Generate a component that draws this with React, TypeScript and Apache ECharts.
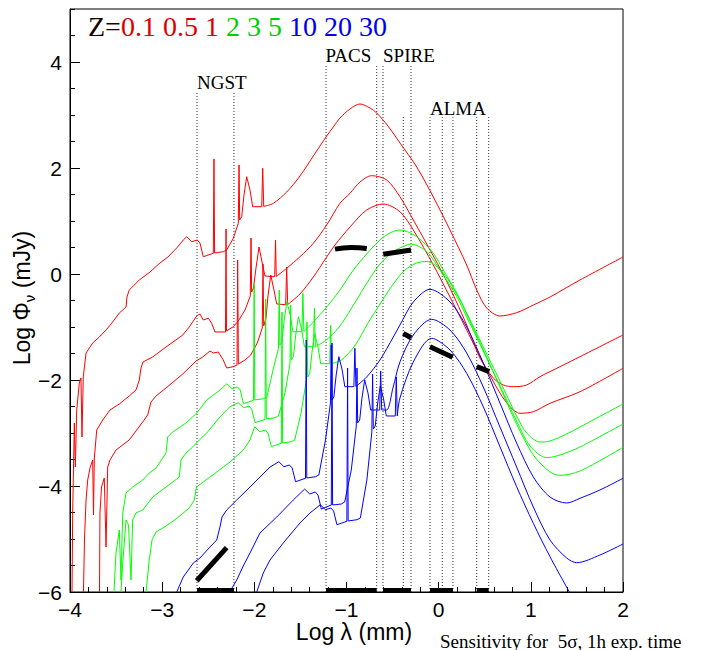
import React, { useEffect, useRef } from "react";
import * as echarts from "echarts";

// ---- SED curves: [log lambda (mm), log flux (mJy)] ----
const z01 = [[-3.978,-6],[-3.971,-4.509],[-3.953,-2.811],[-3.942,-3.642],[-3.927,-2.566],[-3.899,-2.057],[-3.881,-1.962],[-3.870,-3.075],[-3.856,-1.943],[-3.826,-1.491],[-3.754,-1.302],[-3.682,-1.189],[-3.609,-1.057],[-3.537,-0.906],[-3.465,-0.736],[-3.392,-0.623],[-3.382,-0.434],[-3.357,-0.302],[-3.248,-0.113],[-3.132,0.038],[-3.024,0.208],[-2.937,0.321],[-2.842,0.491],[-2.771,0.642],[-2.734,0.704],[-2.680,0.609],[-2.619,0.642],[-2.590,0.585],[-2.554,0.326],[-2.445,0.391],[-2.438,2.170],[-2.431,0.396],[-2.337,0.421],[-2.300,0.453],[-2.228,0.674],[-2.174,0.957],[-2.166,2.057],[-2.159,1.019],[-2.137,1.081],[-2.112,1.491],[-2.083,1.836],[-2.047,1.585],[-2.018,1.270],[-1.920,1.270],[-1.909,1.994],[-1.898,1.274],[-1.794,1.334],[-1.649,1.547],[-1.505,1.849],[-1.360,2.226],[-1.215,2.604],[-1.143,2.774],[-1.071,2.943],[-0.962,3.113],[-0.854,3.208],[-0.745,3.132],[-0.672,3.038],[-0.550,2.792],[-0.420,2.472],[-0.238,2.019],[-0.058,1.453],[0.123,0.830],[0.304,0.170],[0.413,-0.302],[0.521,-0.642],[0.665,-0.792],[0.846,-0.730],[1.027,-0.585],[1.208,-0.434],[1.533,-0.113],[2.0,0.321]];

const z05 = [[-3.854,-6],[-3.843,-5.019],[-3.826,-4.264],[-3.808,-3.887],[-3.783,-3.660],[-3.754,-3.509],[-3.745,-4.547],[-3.736,-3.472],[-3.710,-2.943],[-3.645,-2.755],[-3.566,-2.566],[-3.465,-2.453],[-3.357,-2.302],[-3.284,-2.189],[-3.248,-2.0],[-3.230,-1.774],[-3.208,-1.660],[-3.103,-1.566],[-2.958,-1.377],[-2.777,-1.151],[-2.706,-1.0],[-2.625,-0.792],[-2.590,-0.755],[-2.554,-0.868],[-2.499,-0.836],[-2.463,-0.930],[-2.427,-1.094],[-2.313,-1.094],[-2.307,0.849],[-2.302,-1.075],[-2.228,-0.994],[-2.174,-0.887],[-2.101,-0.679],[-2.044,-0.415],[-2.036,0.679],[-2.029,-0.340],[-2.009,-0.264],[-1.982,0.113],[-1.949,0.509],[-1.917,0.226],[-1.884,-0.038],[-1.779,-0.051],[-1.770,0.642],[-1.762,-0.047],[-1.649,0.108],[-1.505,0.326],[-1.360,0.579],[-1.215,0.925],[-1.071,1.334],[-0.962,1.523],[-0.854,1.736],[-0.727,1.855],[-0.564,1.774],[-0.420,1.458],[-0.275,1.019],[-0.058,0.340],[0.123,-0.264],[0.304,-0.962],[0.448,-1.585],[0.593,-1.962],[0.701,-2.094],[0.810,-2.126],[0.955,-2.094],[1.099,-1.938],[1.316,-1.749],[1.533,-1.560],[2.0,-1.151]];

const z1 = [[-3.680,-6],[-3.675,-4.509],[-3.658,-4.019],[-3.628,-3.849],[-3.609,-5.151],[-3.591,-3.642],[-3.566,-3.509],[-3.501,-3.321],[-3.357,-3.132],[-3.211,-2.792],[-3.157,-2.660],[-3.121,-2.415],[-3.067,-2.302],[-2.958,-2.151],[-2.777,-1.887],[-2.633,-1.642],[-2.560,-1.566],[-2.481,-1.453],[-2.445,-1.491],[-2.391,-1.472],[-2.337,-1.623],[-2.300,-1.774],[-2.228,-1.749],[-2.188,-1.717],[-2.181,0.264],[-2.173,-1.698],[-2.101,-1.623],[-2.039,-1.528],[-1.968,-1.302],[-1.914,-1.019],[-1.906,0.189],[-1.898,-0.981],[-1.873,-0.830],[-1.852,-0.415],[-1.822,-0.019],[-1.787,-0.302],[-1.757,-0.566],[-1.660,-0.579],[-1.649,0.132],[-1.638,-0.575],[-1.505,-0.377],[-1.360,-0.057],[-1.222,0.302],[-1.125,0.547],[-0.962,0.887],[-0.781,1.208],[-0.601,1.321],[-0.420,1.175],[-0.275,0.830],[-0.058,0.170],[0.123,-0.434],[0.304,-1.057],[0.484,-1.679],[0.665,-2.245],[0.774,-2.504],[0.882,-2.628],[1.027,-2.598],[1.208,-2.440],[1.533,-2.221],[2.0,-1.779]];

const z2 = [[-3.523,-6],[-3.501,-5.264],[-3.465,-4.830],[-3.447,-5.774],[-3.428,-4.509],[-3.392,-4.132],[-3.320,-4.019],[-3.211,-3.887],[-3.140,-3.755],[-3.067,-3.660],[-2.958,-3.377],[-2.940,-3.075],[-2.886,-2.981],[-2.741,-2.811],[-2.625,-2.623],[-2.517,-2.377],[-2.373,-2.189],[-2.298,-2.070],[-2.243,-2.164],[-2.183,-2.132],[-2.153,-2.189],[-2.118,-2.447],[-2.009,-2.383],[-2.002,-0.189],[-1.995,-2.377],[-1.901,-2.353],[-1.864,-2.321],[-1.792,-1.774],[-1.738,-1.402],[-1.730,-0.302],[-1.723,-1.340],[-1.701,-1.277],[-1.676,-0.868],[-1.647,-0.523],[-1.611,-0.774],[-1.582,-1.089],[-1.484,-1.089],[-1.473,-0.364],[-1.462,-1.085],[-1.360,-0.906],[-1.215,-0.623],[-1.071,-0.302],[-0.926,0.075],[-0.781,0.377],[-0.637,0.642],[-0.528,0.774],[-0.420,0.830],[-0.238,0.704],[-0.058,0.391],[0.050,0.075],[0.196,-0.358],[0.304,-0.736],[0.484,-1.377],[0.665,-2.019],[0.846,-2.679],[0.955,-3.0],[1.099,-3.170],[1.208,-3.151],[1.389,-3.019],[1.533,-2.887],[2.0,-2.453]];

const z3 = [[-3.447,-6],[-3.425,-5.396],[-3.392,-4.642],[-3.365,-4.736],[-3.338,-5.774],[-3.320,-4.642],[-3.284,-4.509],[-3.211,-4.453],[-3.103,-4.208],[-2.958,-4.019],[-2.814,-3.830],[-2.796,-3.509],[-2.741,-3.377],[-2.669,-3.264],[-2.597,-3.132],[-2.517,-3.0],[-2.373,-2.698],[-2.300,-2.566],[-2.264,-2.504],[-2.173,-2.428],[-2.119,-2.523],[-2.058,-2.491],[-2.029,-2.547],[-1.993,-2.806],[-1.884,-2.741],[-1.877,-0.472],[-1.870,-2.736],[-1.776,-2.711],[-1.739,-2.679],[-1.667,-2.245],[-1.613,-1.685],[-1.606,-0.585],[-1.598,-1.623],[-1.576,-1.560],[-1.551,-1.151],[-1.522,-0.806],[-1.486,-1.057],[-1.457,-1.372],[-1.359,-1.372],[-1.348,-0.647],[-1.338,-1.368],[-1.233,-1.264],[-1.088,-1.019],[-0.944,-0.642],[-0.799,-0.226],[-0.654,0.151],[-0.528,0.377],[-0.420,0.491],[-0.293,0.566],[-0.184,0.491],[-0.112,0.396],[0.014,0.075],[0.196,-0.428],[0.304,-0.811],[0.484,-1.453],[0.665,-2.113],[0.846,-2.774],[0.991,-3.245],[1.172,-3.466],[1.316,-3.415],[1.533,-3.264],[2.0,-2.830]];

const z5 = [[-3.175,-6],[-3.140,-5.396],[-3.110,-5.019],[-3.067,-4.868],[-2.958,-4.755],[-2.850,-4.623],[-2.706,-4.415],[-2.651,-4.264],[-2.628,-4.019],[-2.554,-3.925],[-2.408,-3.736],[-2.264,-3.547],[-2.120,-3.321],[-2.047,-3.132],[-1.996,-2.881],[-1.942,-2.975],[-1.881,-2.943],[-1.852,-3.0],[-1.816,-3.258],[-1.707,-3.194],[-1.700,-0.717],[-1.693,-3.189],[-1.599,-3.164],[-1.562,-3.132],[-1.491,-2.604],[-1.436,-2.006],[-1.429,-0.906],[-1.421,-1.943],[-1.399,-1.881],[-1.374,-1.472],[-1.345,-1.126],[-1.309,-1.377],[-1.280,-1.692],[-1.182,-1.692],[-1.172,-0.968],[-1.161,-1.689],[-1.057,-1.623],[-0.911,-1.358],[-0.767,-0.925],[-0.622,-0.528],[-0.477,-0.151],[-0.365,0.075],[-0.238,0.208],[-0.127,0.236],[0.050,0.019],[0.231,-0.491],[0.304,-0.755],[0.484,-1.434],[0.665,-2.132],[0.846,-2.830],[1.027,-3.415],[1.208,-3.736],[1.316,-3.798],[1.533,-3.717],[2.0,-3.270]];

const z10 = [[-2.842,-6],[-2.771,-5.717],[-2.662,-5.453],[-2.590,-5.358],[-2.481,-5.151],[-2.408,-5.019],[-2.373,-4.774],[-2.351,-4.585],[-2.300,-4.453],[-2.191,-4.264],[-2.047,-4.019],[-1.939,-3.830],[-1.830,-3.642],[-1.734,-3.542],[-1.679,-3.636],[-1.619,-3.604],[-1.589,-3.660],[-1.553,-3.919],[-1.445,-3.855],[-1.437,-1.245],[-1.431,-3.849],[-1.336,-3.825],[-1.300,-3.792],[-1.228,-3.132],[-1.174,-2.434],[-1.166,-1.340],[-1.158,-2.377],[-1.137,-2.321],[-1.112,-1.906],[-1.083,-1.560],[-1.047,-1.811],[-1.018,-2.126],[-0.920,-2.126],[-0.909,-1.402],[-0.898,-2.123],[-0.781,-1.943],[-0.637,-1.623],[-0.492,-1.189],[-0.420,-0.962],[-0.275,-0.528],[-0.094,-0.289],[0.123,-0.528],[0.304,-1.0],[0.484,-1.679],[0.665,-2.434],[0.846,-3.189],[1.027,-3.830],[1.208,-4.208],[1.389,-4.321],[1.533,-4.232],[1.750,-4.075],[2.0,-3.855]];

const z20 = [[-2.269,-6],[-2.191,-5.774],[-2.120,-5.509],[-2.047,-5.264],[-1.939,-4.887],[-1.757,-4.585],[-1.577,-4.264],[-1.454,-4.057],[-1.399,-4.151],[-1.339,-4.113],[-1.309,-4.170],[-1.273,-4.434],[-1.165,-4.358],[-1.157,-1.302],[-1.151,-4.358],[-1.057,-4.340],[-1.020,-4.302],[-0.948,-3.698],[-0.894,-2.868],[-0.886,-1.774],[-0.879,-2.811],[-0.857,-2.755],[-0.832,-2.340],[-0.803,-2.0],[-0.767,-2.245],[-0.738,-2.566],[-0.640,-2.566],[-0.629,-1.830],[-0.618,-2.566],[-0.564,-2.566],[-0.496,-2.151],[-0.420,-1.660],[-0.275,-1.151],[-0.076,-0.855],[0.123,-1.057],[0.304,-1.491],[0.484,-2.132],[0.665,-2.887],[0.846,-3.642],[1.027,-4.396],[1.208,-5.019],[1.389,-5.358],[1.497,-5.447],[1.750,-5.302],[2.0,-5.094]];

const z30 = [[-1.974,-6],[-1.903,-5.642],[-1.830,-5.396],[-1.686,-5.075],[-1.505,-4.698],[-1.396,-4.509],[-1.284,-4.353],[-1.230,-4.447],[-1.169,-4.415],[-1.140,-4.472],[-1.104,-4.730],[-0.996,-4.666],[-0.988,-1.774],[-0.982,-4.660],[-0.887,-4.636],[-0.850,-4.604],[-0.779,-3.887],[-0.725,-2.981],[-0.717,-1.887],[-0.709,-2.925],[-0.688,-2.868],[-0.663,-2.453],[-0.633,-2.113],[-0.598,-2.358],[-0.568,-2.679],[-0.471,-2.679],[-0.460,-1.943],[-0.449,-2.679],[-0.420,-2.340],[-0.275,-1.660],[-0.076,-1.213],[0.123,-1.434],[0.304,-1.874],[0.484,-2.504],[0.665,-3.258],[0.846,-4.013],[1.027,-4.704],[1.208,-5.334],[1.454,-6.113]];

// ---- instrument bands (log lambda, mm) ----
const ngstLines = [-2.622, -2.221];
const pacsLines = [-1.222, -0.672];
const spireLines = [-0.604, -0.300];
const almaLines = [-0.384, -0.094, 0.039, 0.155, 0.413, 0.543];
const ngstTop = 3.45;
const herschelTop = 3.94;
const almaTop = 2.96;
const coverage = [[-2.622, -2.221], [-1.222, -0.672], [-0.604, -0.300], [-0.094, 0.155], [0.413, 0.543]];

// ---- 5 sigma, 1h sensitivities ----
const ngstSens = [[-2.625, -5.787], [-2.300, -5.164]];
const pacsSens = [[-1.125, 0.47], [-0.95, 0.50], [-0.78, 0.48]];
const spireSens = [[-0.601, 0.372], [-0.300, 0.453]];
const almaSens9 = [[-0.384, -1.119], [-0.300, -1.202]];
const almaSens67 = [[-0.094, -1.372], [0.152, -1.572]];
const almaSens3 = [[0.413, -1.749], [0.549, -1.843]];

const redshifts = ["0.1", "0.5", "1", "2", "3", "5", "10", "20", "30"];
const curves = [z01, z05, z1, z2, z3, z5, z10, z20, z30];
const curveColors = ["#ff0000", "#ff0000", "#ff0000", "#00ff00", "#00ff00", "#00ff00", "#0000ff", "#0000ff", "#0000ff"];
// wavelength after the last emission feature: from here on the curve is a smooth continuum
const continuumFrom = [-1.898, -1.762, -1.638, -1.462, -1.338, -1.161, -0.898, -0.618, -0.449];

const fmt = (v: number) => (v === 5 ? "" : String(v).replace("-", "\u2212"));

export default function App() {
  const ref = useRef<HTMLDivElement>(null);
  useEffect(() => {
    const chart = echarts.init(ref.current!, null, { renderer: "svg" });
    const series: any[] = [];
    const vline = (x: number, top: number) => ({
      type: "line", data: [[x, -6], [x, top]], symbol: "none", silent: true, z: 1,
      lineStyle: { color: "#333", width: 1, type: [1, 2] },
    });
    ngstLines.forEach((x) => series.push(vline(x, ngstTop)));
    pacsLines.forEach((x) => series.push(vline(x, herschelTop)));
    spireLines.forEach((x) => series.push(vline(x, herschelTop)));
    almaLines.forEach((x) => series.push(vline(x, almaTop)));
    curves.forEach((d, i) => {
      let k = d.findIndex((p) => p[0] >= continuumFrom[i] - 1e-9);
      if (k < 0) k = d.length - 1;
      const base = { type: "line", name: "z=" + redshifts[i], symbol: "none", silent: true, z: 3, clip: true, lineStyle: { color: curveColors[i], width: 1 } };
      series.push({ ...base, data: d.slice(0, k + 1) });
      series.push({ ...base, data: d.slice(k), smooth: 0.3 });
    });
    coverage.forEach((r) =>
      series.push({
        type: "line", data: [[r[0], -5.962], [r[1], -5.962]], symbol: "none", silent: true, z: 5,
        lineStyle: { color: "#000", width: 4, cap: "butt" },
      })
    );
    [ngstSens, pacsSens, spireSens, almaSens9, almaSens67, almaSens3].forEach((d) =>
      series.push({
        type: "line", data: d, symbol: "none", silent: true, z: 6, smooth: d.length > 2,
        lineStyle: { color: "#000", width: 5, cap: "butt" },
      })
    );

    const sans = "Liberation Sans";
    const serif = "Liberation Serif";
    chart.setOption({
      animation: false,
      backgroundColor: "#fff",
      grid: { left: 70, top: 9, width: 553, height: 583, show: true, borderColor: "#000", borderWidth: 1 },
      xAxis: {
        type: "value", min: -4, max: 2, interval: 1,
        axisLine: { show: true, onZero: false, lineStyle: { color: "#000", width: 1 } },
        axisTick: { show: true, inside: true, length: 10, lineStyle: { color: "#000" } },
        minorTick: { show: true, splitNumber: 5, length: 5, lineStyle: { color: "#000" } },
        splitLine: { show: false },
        axisLabel: { formatter: fmt, fontFamily: sans, fontSize: 21, color: "#000", margin: 7 },
      },
      yAxis: [
        {
          type: "value", min: -6, max: 5, interval: 2,
          axisLine: { show: true, onZero: false, lineStyle: { color: "#000", width: 1 } },
          axisTick: { show: true, inside: true, length: 10, lineStyle: { color: "#000" } },
          splitLine: { show: false },
          axisLabel: { formatter: fmt, fontFamily: sans, fontSize: 21, color: "#000", margin: 8, showMaxLabel: false },
        },
        {
          type: "value", min: -6, max: 5, interval: 0.5, position: "left",
          axisLine: { show: false, onZero: false },
          axisTick: { show: true, inside: true, length: 5, lineStyle: { color: "#000" } },
          splitLine: { show: false },
          axisLabel: { show: false },
        },
      ],
      graphic: [
        {
          type: "text", x: 88, y: 26, silent: true,
          style: {
            text: "{k|Z=}{r|0.1 0.5 1 }{g|2 3 5 }{b|10 20 30}",
            verticalAlign: "middle", align: "left",
            font: "28px " + serif,
            rich: {
              k: { fontFamily: serif, fontSize: 28, fill: "#1a0000" },
              r: { fontFamily: serif, fontSize: 28, fill: "#dd0000" },
              g: { fontFamily: serif, fontSize: 28, fill: "#00d000" },
              b: { fontFamily: serif, fontSize: 28, fill: "#0000ee" },
            },
          },
        },
        { type: "text", x: 197, y: 82, silent: true, style: { text: "NGST", font: "19px " + serif, fill: "#000", verticalAlign: "middle" } },
        { type: "text", x: 325.5, y: 55.5, silent: true, style: { text: "PACS", font: "19px " + serif, fill: "#000", verticalAlign: "middle" } },
        { type: "text", x: 383, y: 55.5, silent: true, style: { text: "SPIRE", font: "19px " + serif, fill: "#000", verticalAlign: "middle" } },
        { type: "text", x: 430, y: 108.5, silent: true, style: { text: "ALMA", font: "19px " + serif, fill: "#000", verticalAlign: "middle" } },
        { type: "text", x: 354, y: 632, silent: true, style: { text: "Log \u03bb (mm)", font: "23px " + sans, fill: "#000", align: "center", verticalAlign: "middle" } },
        { type: "text", x: 440, y: 641, silent: true, style: { text: "Sensitivity for  5\u03c3, 1h exp. time", font: "19px " + serif, fill: "#000", align: "left", verticalAlign: "middle" } },
        {
          type: "text", x: 22, y: 298, rotation: Math.PI / 2, silent: true,
          style: {
            text: "{a|Log \u03a6}{s|\u03bd}{a| (mJy)}",
            align: "center", verticalAlign: "middle",
            font: "23px " + sans,
            rich: {
              a: { fontFamily: sans, fontSize: 23, lineHeight: 30, verticalAlign: "middle", fill: "#000" },
              s: { fontFamily: sans, fontSize: 15, lineHeight: 15, verticalAlign: "bottom", fill: "#000" },
            },
          },
        },
      ],
      series,
    });
    return () => chart.dispose();
  }, []);
  return <div ref={ref} style={{ position: "absolute", left: 0, top: 0, width: 702, height: 650, background: "#fff" }} />;
}
